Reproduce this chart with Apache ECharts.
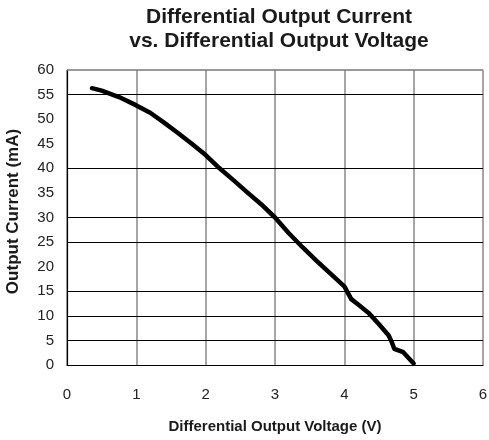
<!DOCTYPE html>
<html>
<head>
<meta charset="utf-8">
<script src="https://cdn.jsdelivr.net/npm/echarts@6/dist/echarts.min.js"></script>
<style>
  html, body { margin: 0; padding: 0; background: #fff; }
  #main { width: 489px; height: 440px; }
</style>
</head>
<body>
<div id="main"></div>
<script>
  // curve: [voltage (V), current (mA)]
  var curvePoints = [
    [0.36, 56.3], [0.5, 55.8], [0.75, 54.5], [1.0, 52.8], [1.2, 51.3],
    [1.4, 49.3], [1.6, 47.2], [1.8, 45.0], [2.0, 42.7], [2.2, 40.0],
    [2.4, 37.6], [2.6, 35.1], [2.8, 32.7], [3.0, 30.0], [3.2, 26.8],
    [3.4, 23.9], [3.6, 21.2], [3.8, 18.6], [4.0, 16.0], [4.1, 13.4],
    [4.2, 12.3], [4.35, 10.6], [4.5, 8.3], [4.64, 6.0], [4.68, 4.8],
    [4.72, 3.3], [4.85, 2.6], [5.0, 0.3]
  ];
  // horizontal grid lines that are visible in the reference
  var gridLevels = [0, 5, 10, 15, 25, 30, 40, 55];
  var titleLines = ['Differential Output Current', 'vs. Differential Output Voltage'];

  var font = 'Liberation Sans, Arial, sans-serif';

  var myChart = echarts.init(document.getElementById('main'));

  var markData = gridLevels.map(function (v) {
    return { yAxis: v, lineStyle: { color: '#000', width: 1.2, type: 'solid' } };
  });
  markData.push({ yAxis: 60, lineStyle: { color: '#777', width: 1.5, type: 'solid' } });

  var option = {
    animation: false,
    title: {
      text: titleLines.join('\n'),
      left: 274,
      top: 0,
      textAlign: 'center',
      textStyle: {
        fontFamily: font,
        fontSize: 21,
        fontWeight: 'bold',
        color: '#1a1a1a',
        lineHeight: 24
      }
    },
    grid: {
      left: 67,
      right: 6,
      top: 70,
      bottom: 75,
      outerBoundsMode: 'none'
    },
    xAxis: {
      type: 'value',
      min: 0,
      max: 6,
      interval: 1,
      name: 'Differential Output Voltage (V)',
      nameLocation: 'middle',
      nameGap: 54,
      nameTextStyle: {
        fontFamily: font,
        fontSize: 15,
        fontWeight: 'bold',
        color: '#1a1a1a'
      },
      axisLine: { lineStyle: { color: '#000', width: 1.2 } },
      axisTick: { show: false },
      axisLabel: {
        margin: 22,
        fontFamily: font,
        fontSize: 15,
        color: '#222'
      },
      splitLine: { show: true, lineStyle: { color: '#888', width: 1.5 } }
    },
    yAxis: {
      type: 'value',
      min: 0,
      max: 60,
      interval: 5,
      name: 'Output Current (mA)',
      nameLocation: 'middle',
      nameGap: 45,
      nameTextStyle: {
        fontFamily: font,
        fontSize: 17,
        fontWeight: 'bold',
        color: '#1a1a1a',
        padding: [0, 0, 0, 12]
      },
      axisLine: { show: true, lineStyle: { color: '#000', width: 1.2 } },
      axisTick: { show: false },
      axisLabel: {
        margin: 13,
        fontFamily: font,
        fontSize: 15,
        color: '#222'
      },
      splitLine: { show: false }
    },
    series: [{
      type: 'line',
      data: curvePoints,
      showSymbol: false,
      smooth: false,
      lineStyle: { color: '#000', width: 4.5, cap: 'round', join: 'round' },
      markLine: {
        silent: true,
        symbol: 'none',
        label: { show: false },
        data: markData
      },
      z: 5
    }]
  };

  myChart.setOption(option);
</script>
</body>
</html>
